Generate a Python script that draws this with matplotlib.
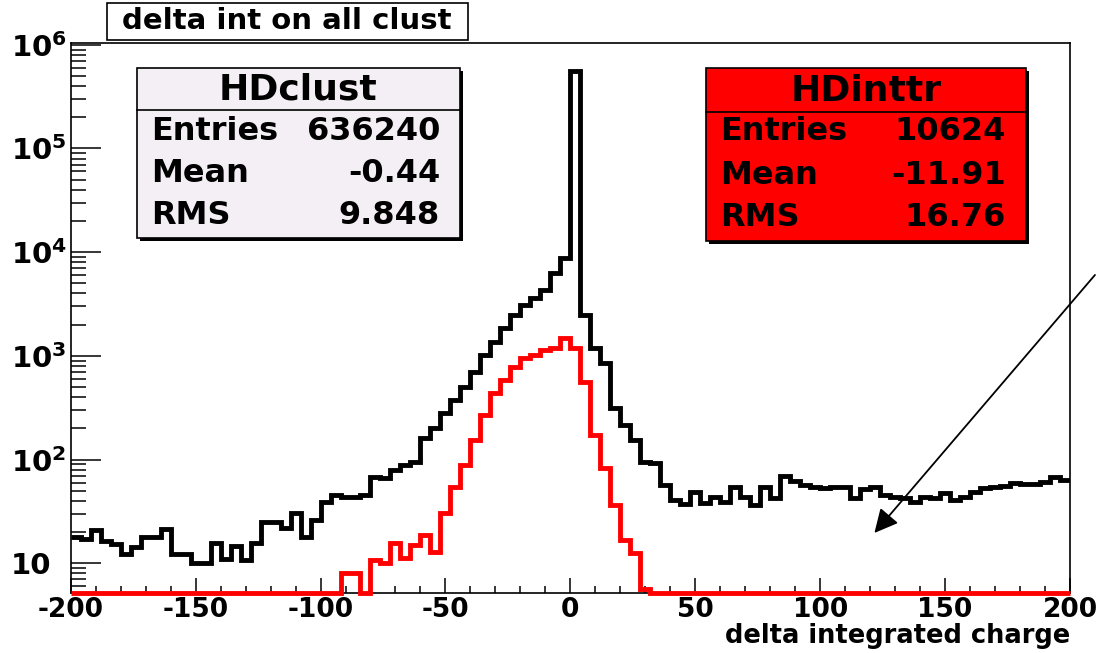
import matplotlib
matplotlib.use("Agg")
import matplotlib.pyplot as plt
from matplotlib.patches import Rectangle
import numpy as np

# binning of both histograms: 100 bins of width 4 between -200 and 200
x_lo, x_hi, n_bins = -200, 200, 100

# HDclust bin contents (log scale)
hdclust = [18.0, 17.0, 20.9, 16.5, 15.4, 12.2, 14.5, 18.0, 18.0, 21.3,
           12.2, 12.2, 10.0, 10.0, 15.8, 10.9, 14.7, 10.8, 15.6, 25.2,
           25.2, 21.8, 30.3, 18.0, 26.2, 39.3, 45.6, 43.9, 43.9, 45.6,
           68.4, 66.0, 79.4, 88.7, 95.5, 160, 200, 279, 375, 505,
           704, 1020, 1370, 1846, 2480, 3095, 3590, 4320, 6260, 8740,
           562000, 2480, 1183, 849, 313, 216, 155, 95.5, 92.0, 56.9,
           40.7, 37.3, 49.0, 38.4, 43.9, 39.3, 54.8, 43.9, 36.5, 54.8,
           42.4, 69.5, 62.7, 56.9, 54.1, 52.9, 54.1, 54.8, 42.4, 51.7,
           54.8, 45.6, 43.9, 42.4, 39.3, 43.9, 42.4, 47.3, 40.7, 43.3,
           49.0, 52.9, 54.1, 55.6, 59.8, 58.2, 58.2, 61.2, 68.4, 63.5]

# HDinttr bin contents
hdinttr = [0, 0, 0, 0, 0, 0, 0, 0, 0, 0,
           0, 0, 0, 0, 0, 0, 0, 0, 0, 0,
           0, 0, 0, 0, 0, 0, 0, 8.0, 8.0, 0,
           10.8, 10.0, 15.6, 11.2, 15.0, 18.7, 12.9, 30.3, 54.8, 88.7,
           155, 269, 436, 586, 787, 948, 1020, 1140, 1183, 1479,
           1183, 564, 173, 82.4, 36.5, 16.8, 12.5, 5.7, 0, 0,
           0, 0, 0, 0, 0, 0, 0, 0, 0, 0,
           0, 0, 0, 0, 0, 0, 0, 0, 0, 0,
           0, 0, 0, 0, 0, 0, 0, 0, 0, 0,
           0, 0, 0, 0, 0, 0, 0, 0, 0, 0]

x_ticks = [-200, -150, -100, -50, 0, 50, 100, 150, 200]
y_ticks = [10, 1e2, 1e3, 1e4, 1e5, 1e6]
y_tick_labels = ["10", r"$10^{2}$", r"$10^{3}$", r"$10^{4}$", r"$10^{5}$", r"$10^{6}$"]

title = "delta int on all clust"
x_label = "delta integrated charge"
stats_clust = [("Entries", "636240"), ("Mean", "-0.44"), ("RMS", "9.848")]
stats_inttr = [("Entries", "10624"), ("Mean", "-11.91"), ("RMS", "16.76")]

y_min, y_max = 5.17, 1.04e6

plt.rcParams["font.family"] = ["DejaVu Sans"]
plt.rcParams["font.weight"] = "bold"
plt.rcParams["mathtext.default"] = "bf"

W, H = 1098, 653
fig = plt.figure(figsize=(W / 100, H / 100), dpi=100)

def fx(px):
    return px / W

def fy(py):
    return 1 - py / H

ax = fig.add_axes([fx(70.7), fy(593), fx(1070) - fx(70.7), fy(43) - fy(593)])

edges = np.linspace(x_lo, x_hi, n_bins + 1)
clust = np.array(hdclust, dtype=float)
inttr = np.array(hdinttr, dtype=float)
# empty bins sit on the bottom of the log axis, like ROOT draws them
inttr_draw = np.where(inttr > 0, inttr, y_min)

ax.stairs(clust, edges, baseline=None, color="black", linewidth=3.5, zorder=3)
ax.stairs(inttr_draw, edges, baseline=None, color="#ff0000", linewidth=3.5,
          zorder=4, clip_on=False)

ax.set_yscale("log")
ax.set_xlim(x_lo, x_hi)
ax.set_ylim(y_min, y_max)

ax.set_xticks(x_ticks)
ax.set_xticklabels([str(t) for t in x_ticks])
ax.set_xticks(np.arange(x_lo, x_hi + 1, 10), minor=True)
ax.set_yticks(y_ticks)
ax.set_yticklabels(y_tick_labels)
ax.yaxis.set_minor_locator(matplotlib.ticker.LogLocator(base=10, subs=np.arange(2, 10)))
ax.yaxis.set_minor_formatter(matplotlib.ticker.NullFormatter())

ax.tick_params(axis="x", which="major", direction="in", length=10.8, width=1.1,
               labelsize=19, pad=3)
ax.tick_params(axis="x", which="minor", direction="in", length=5, width=1.1)
ax.tick_params(axis="y", which="major", direction="in", length=21.6, width=1.1,
               labelsize=21, pad=43)
ax.tick_params(axis="y", which="minor", direction="in", length=10.8, width=1.1)
for lab in ax.get_xticklabels():
    lab.set_fontweight("bold")
for lab in ax.get_yticklabels():
    lab.set_fontweight("bold")
    lab.set_horizontalalignment("left")
for sp in ax.spines.values():
    sp.set_linewidth(1.2)

ax.set_xlabel(x_label, loc="right", fontsize=18.5, fontweight="bold", labelpad=0)

# title box
fig.patches.append(Rectangle((fx(107), fy(40)), fx(468) - fx(107), fy(3) - fy(40),
                             transform=fig.transFigure, facecolor="white",
                             edgecolor="black", linewidth=1.2, zorder=5))
fig.text(fx(287), fy(21), title, ha="center", va="center", fontsize=21,
         fontweight="bold", zorder=6)

def stats_box(x0, x1, y0, y1, ysep, name, rows, face, row_y):
    # shadow
    fig.patches.append(Rectangle((fx(x0 + 3), fy(y1 + 3)), fx(x1) - fx(x0), fy(y0) - fy(y1),
                                 transform=fig.transFigure, facecolor="black",
                                 edgecolor="black", linewidth=0, zorder=5))
    fig.patches.append(Rectangle((fx(x0), fy(y1)), fx(x1) - fx(x0), fy(y0) - fy(y1),
                                 transform=fig.transFigure, facecolor=face,
                                 edgecolor="black", linewidth=1.2, zorder=6))
    fig.add_artist(matplotlib.lines.Line2D([fx(x0), fx(x1)], [fy(ysep), fy(ysep)],
                                           transform=fig.transFigure, color="black",
                                           linewidth=1.2, zorder=7))
    fig.text(fx((x0 + x1) / 2), fy((y0 + ysep) / 2 + 1), name, ha="center", va="center",
             fontsize=26, fontweight="bold", zorder=8)
    for (lab, val), yy in zip(rows, row_y):
        fig.text(fx(x0 + 14), fy(yy), lab, ha="left", va="center", fontsize=23,
                 fontweight="bold", zorder=8)
        fig.text(fx(x1 - 20), fy(yy), val, ha="right", va="center", fontsize=23,
                 fontweight="bold", zorder=8)

stats_box(137, 460, 68, 238, 110, "HDclust", stats_clust, "#f4eff4", [131, 174, 215])
stats_box(706, 1026, 68, 241, 112, "HDinttr", stats_inttr, "#ff0000", [132, 176, 218])

# arrow pointing at the flat tail of HDclust
ax.annotate("", xy=(121.7, 19.6), xytext=(210.0, 6030), annotation_clip=False,
            arrowprops=dict(arrowstyle="-|>", color="black", lw=1.3,
                            mutation_scale=36, shrinkA=0, shrinkB=0), zorder=9)

fig.savefig("out.png", dpi=100)
